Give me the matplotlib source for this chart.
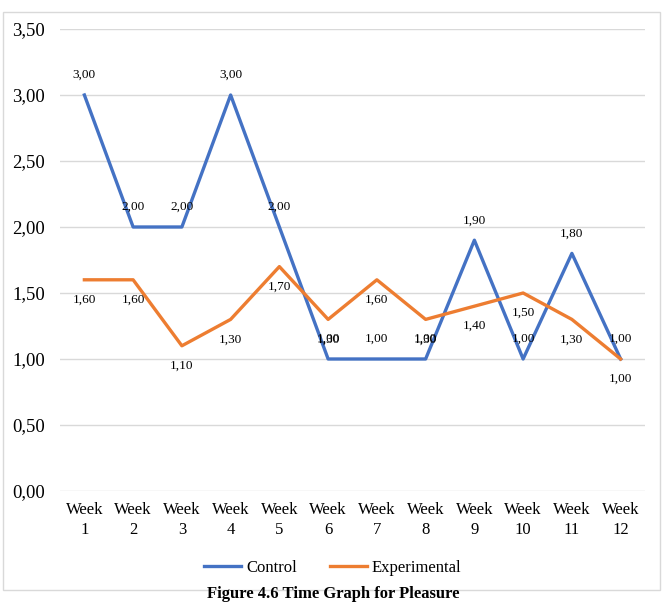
import numpy as np
import matplotlib.pyplot as plt
from matplotlib.patches import Rectangle

weeks = ['Week\n%d' % i for i in range(1, 13)]
control = [3.0, 2.0, 2.0, 3.0, 2.0, 1.0, 1.0, 1.0, 1.9, 1.0, 1.8, 1.0]
experimental = [1.6, 1.6, 1.1, 1.3, 1.7, 1.3, 1.6, 1.3, 1.4, 1.5, 1.3, 1.0]
yticks = [0.0, 0.5, 1.0, 1.5, 2.0, 2.5, 3.0, 3.5]

plt.rcParams['font.family'] = ['Liberation Serif', 'DejaVu Serif']

def fmt(v):
    return ('%.2f' % v).replace('.', ',')

fig = plt.figure(figsize=(6.66, 6.03), dpi=100)
# chart frame
fig.patches.append(Rectangle((3 / 666, 1 - 590 / 603), 657 / 666, 578 / 603,
                             transform=fig.transFigure, fill=False,
                             edgecolor='#D9D9D9', linewidth=1))

ax = fig.add_axes([60 / 666, 1 - 491 / 603, 585 / 666, 462 / 603])
x = np.arange(len(weeks))
ax.plot(x, control, color='#4472C4', linewidth=2.4, label='Control')
ax.plot(x, experimental, color='#ED7D31', linewidth=2.4, label='Experimental')

for xi, v in zip(x, control):
    ax.annotate(fmt(v), (xi, v), xytext=(0, 10), textcoords='offset points',
                ha='center', va='bottom', fontsize=9.5)
for xi, v in zip(x, experimental):
    ax.annotate(fmt(v), (xi, v), xytext=(0, -10), textcoords='offset points',
                ha='center', va='top', fontsize=9.5)

ax.set_xlim(-0.5, len(weeks) - 0.5)
ax.set_ylim(0, 3.5)
ax.set_yticks(yticks)
ax.set_yticklabels([fmt(t) for t in yticks], fontsize=13.5)
ax.set_xticks(x)
ax.set_xticklabels(weeks, fontsize=12, linespacing=1.3)
ax.tick_params(length=0, pad=8)
ax.tick_params(axis='y', pad=11)
ax.grid(axis='y', color='#D9D9D9', linewidth=1)
ax.set_axisbelow(True)
for s in ax.spines.values():
    s.set_visible(False)

fig.legend(loc='center', bbox_to_anchor=(333 / 666, 1 - 568 / 603), ncol=2,
           frameon=False, fontsize=12, handlelength=2.2, columnspacing=2.0,
           handletextpad=0.3)

# caption sits just under the frame
fig.text(0.5, 1 - 602 / 603, 'Figure 4.6 Time Graph for Pleasure', ha='center',
         va='bottom', fontsize=12, fontweight='bold')

fig.savefig('out.png', dpi=100)
